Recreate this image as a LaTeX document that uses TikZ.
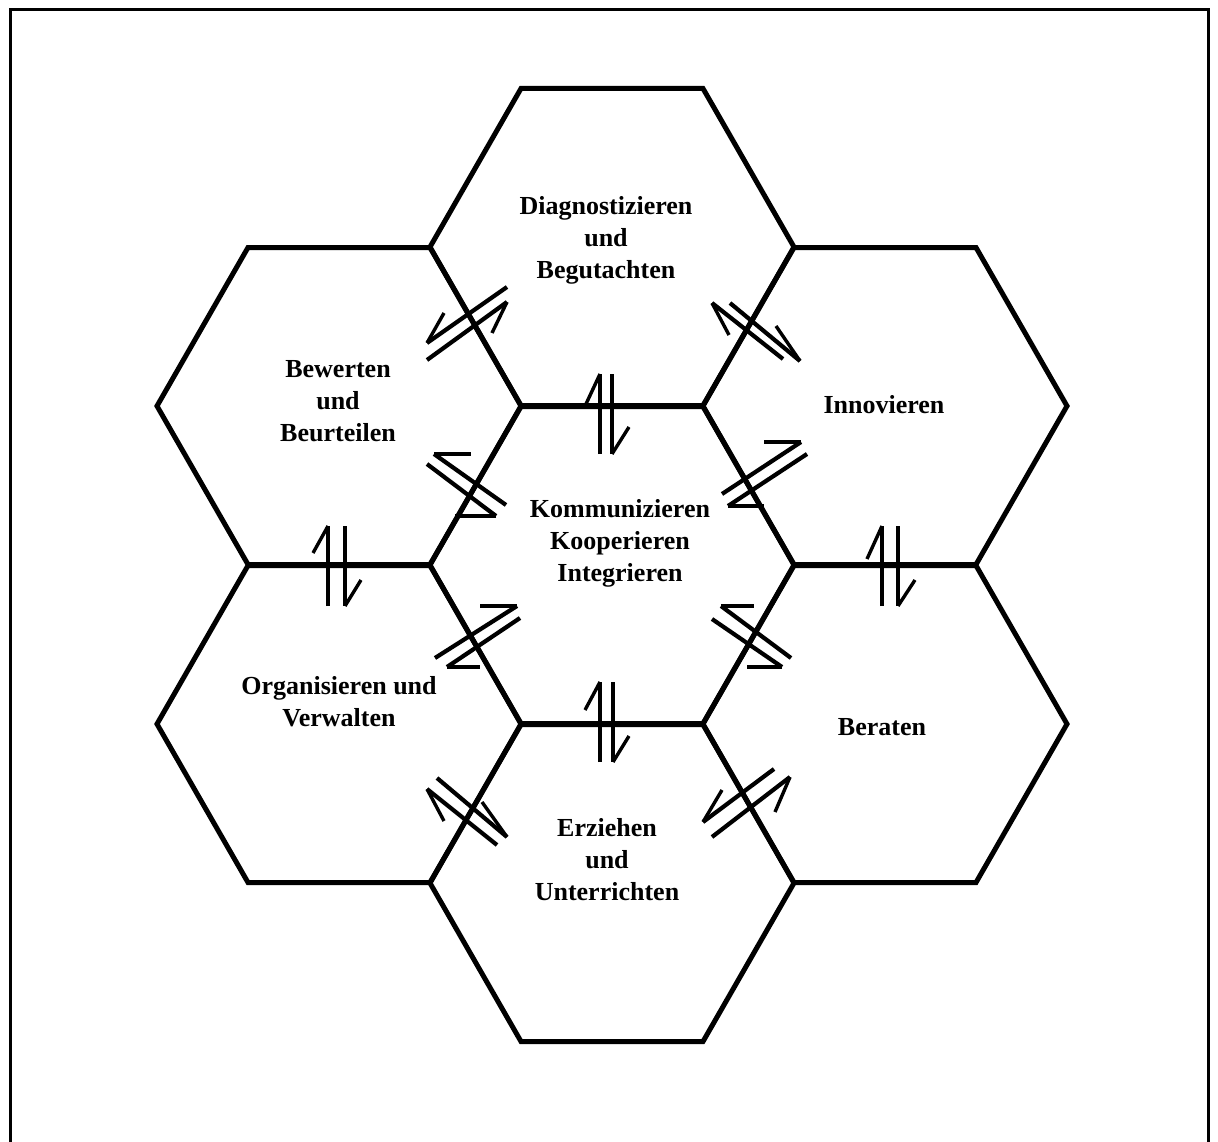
\documentclass[tikz,border=0pt]{standalone}
\usepackage{fontspec}
\setmainfont{Liberation Serif}
\begin{document}
\begin{tikzpicture}[x=1pt,y=-1pt,
  hex/.style={line width=5pt,line join=miter},
  frame/.style={line width=3pt},
  shaft/.style={line width=4.2pt},
  barb/.style={line width=3.4pt},
  lbl/.style={font=\bfseries\fontsize{26}{32}\selectfont,align=center,inner sep=0pt},
  hexa/.pic={\draw[hex] (-182,0) -- (-91,-158.5) -- (91,-158.5) -- (182,0) -- (91,158.5) -- (-91,158.5) -- cycle;}]
\useasboundingbox (0,0) rectangle (1218,1142);
\draw[frame] (10,1142) -- (10,10) -- (1208,10) -- (1208,1142);
% hexagons
\pic (hT)  at (612,247) {hexa};
\pic (hTL) at (339,406) {hexa};
\pic (hTR) at (885,406) {hexa};
\pic (hC)  at (612,565) {hexa};
\pic (hBL) at (339,724) {hexa};
\pic (hBR) at (885,724) {hexa};
\pic (hB)  at (612,883) {hexa};
% labels
\node[lbl] (tT)  at (606,240) {Diagnostizieren\\und\\Begutachten};
\node[lbl] (tTL) at (338,401) {Bewerten\\und\\Beurteilen};
\node[lbl] (tTR) at (884,405) {Innovieren};
\node[lbl] (tC)  at (620,543) {Kommunizieren\\Kooperieren\\Integrieren};
\node[lbl] (tBL) at (339,702) {Organisieren und\\Verwalten};
\node[lbl] (tBR) at (882,727) {Beraten};
\node[lbl] (tB)  at (607,860) {Erziehen\\und\\Unterrichten};
% harpoon pairs: shaft tail -- tip, barb from tip
\newcommand\harp[3]{\draw[shaft] #1 -- #2; \draw[barb] #2 -- #3;}
% vertical
\harp{(600,454)}{(600,374)}{(586,404)}
\harp{(612,374)}{(612,454)}{(629,427)}
\harp{(328,606)}{(328,526)}{(313,553)}
\harp{(345,526)}{(345,606)}{(361,580)}
\harp{(882,606)}{(882,526)}{(867,559)}
\harp{(898,526)}{(898,606)}{(915,580)}
\harp{(600,762)}{(600,682)}{(585,710)}
\harp{(613,682)}{(613,762)}{(629,736)}
% diagonal
\harp{(507,287)}{(427,343)}{(444,313)}
\harp{(427,360)}{(507,302)}{(492,333)}
\harp{(783,359)}{(712,303)}{(729,335)}
\harp{(730,303)}{(800,361)}{(776,326)}
\harp{(506,505)}{(434,454)}{(471,454)}
\harp{(427,464)}{(496,516)}{(455,516)}
\harp{(722,494)}{(801,442)}{(764,442)}
\harp{(807,454)}{(728,506)}{(764,506)}
\harp{(435,658)}{(517,606)}{(480,606)}
\harp{(520,618)}{(447,667)}{(480,667)}
\harp{(791,658)}{(721,606)}{(754,606)}
\harp{(712,619)}{(782,667)}{(747,667)}
\harp{(497,845)}{(427,789)}{(444,821)}
\harp{(437,778)}{(507,837)}{(482,802)}
\harp{(774,769)}{(703,822)}{(722,790)}
\harp{(712,837)}{(790,777)}{(775,812)}
\end{tikzpicture}
\end{document}
